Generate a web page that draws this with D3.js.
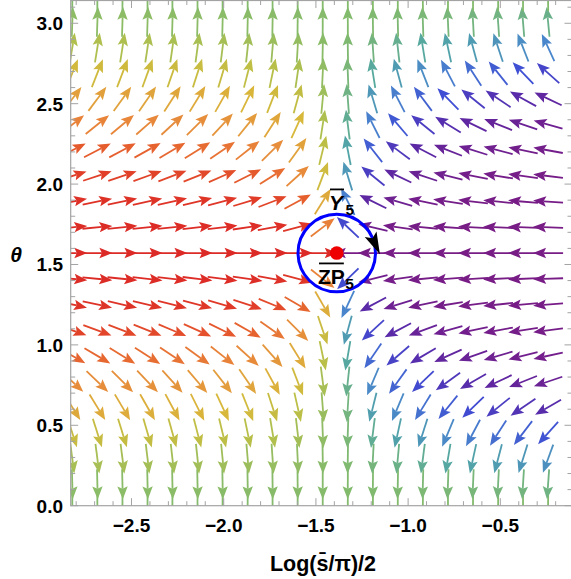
<!DOCTYPE html>
<html>
<head>
<meta charset="utf-8">
<script src="https://cdn.jsdelivr.net/npm/d3@7"></script>
<style>
  body { margin: 0; background: #fff; }
  text { font-family: "Liberation Sans", Arial, sans-serif; }
</style>
</head>
<body>
<svg id="chart" width="571" height="579"></svg>
<script>
// Sample grid of the flow field
const columnX = [-2.821, -2.685, -2.549, -2.413, -2.278, -2.142, -2.006, -1.870, -1.735, -1.599,
                 -1.463, -1.327, -1.191, -1.056, -0.920, -0.784, -0.648, -0.512, -0.377, -0.241];
const rowTheta = [-0.027, 0.133, 0.292, 0.452, 0.612, 0.772, 0.932, 1.091, 1.251, 1.411, 1.571,
                  1.731, 1.891, 2.050, 2.210, 2.370, 2.530, 2.690, 2.849, 3.009, 3.169];

// Horizontal drift of each column, its weight on each row, and the vertical push of each row
const driftX = [1.72, 1.68, 1.62, 1.55, 1.47, 1.38, 1.27, 1.10, 0.88, 0.62,
                0.21, -0.17, -0.68, -1.16, -1.68, -2.22, -2.80, -3.40, -4.05, -4.75];
const rowWeight = [0.001, 0.015, 0.074, 0.170, 0.298, 0.445, 0.598, 0.743, 0.867, 0.956, 1.000,
                   0.993, 0.935, 0.830, 0.690, 0.528, 0.363, 0.212, 0.093, 0.020, 0.001];
const liftTheta = [-1.000, -0.991, -0.958, -0.900, -0.818, -0.717, -0.597, -0.462, -0.315, -0.159, 0.000,
                   0.159, 0.315, 0.462, 0.597, 0.717, 0.818, 0.900, 0.958, 0.991, 1.000];

// Axes
const xTicks = [-2.5, -2.0, -1.5, -1.0, -0.5];
const xTickLabels = ["\u22122.5", "\u22122.0", "\u22121.5", "\u22121.0", "\u22120.5"];
const yTicks = [0.0, 0.5, 1.0, 1.5, 2.0, 2.5, 3.0];
const yTickLabels = ["0.0", "0.5", "1.0", "1.5", "2.0", "2.5", "3.0"];

// Fixed point and the loop around it
const fixedPoint = { x: -1.387, theta: 1.571 };
const loopRadius = 0.21;        // in x units
const loopArrowAt = 29;         // degrees, where the loop's arrowhead sits

const plot = { left: 70.7, right: 572, top: 0.5, bottom: 505.7 };

const svg = d3.select("#chart");

const x = d3.scaleLinear().domain([-2.8297, -0.1113]).range([plot.left, plot.right]);
const y = d3.scaleLinear().domain([0, Math.PI]).range([plot.bottom, plot.top]);

// Rainbow palette indexed by the horizontal direction of each arrow
const rainbow = d3.scaleLinear()
  .domain([0, 0.06, 0.15, 0.29, 0.41, 0.50, 0.59, 0.71, 0.80, 0.89, 0.94, 0.98, 1.0])
  .range(["#781c86", "#5a2aa8", "#3f4ed4", "#4a86cc", "#52a6a4", "#84bb6c",
          "#b5c04a", "#d8b83a", "#e2a03c", "#e8843a", "#e6602e", "#e03a28", "#dc2a26"])
  .interpolate(d3.interpolateRgb);

svg.append("defs").append("clipPath").attr("id", "plotClip")
  .append("rect")
  .attr("x", plot.left).attr("y", plot.top)
  .attr("width", plot.right - plot.left).attr("height", plot.bottom - plot.top);

// Vectors
const vectors = [];
rowTheta.forEach((th, j) => {
  columnX.forEach((cx, i) => {
    const vx = driftX[i] * rowWeight[j];
    const vy = liftTheta[j];
    const ang = Math.atan2(vy, vx);
    vectors.push({ cx, th, ang, t: (1 + Math.cos(ang)) / 2 });
  });
});

const arrowLen = 30, headLen = 13, headHalf = 5.2, notch = 10.5;
const field = svg.append("g").attr("clip-path", "url(#plotClip)");

const arrows = field.selectAll("g.vec").data(vectors).join("g")
  .attr("class", "vec")
  .attr("transform", d => `translate(${x(d.cx)},${y(d.th)}) rotate(${-d.ang * 180 / Math.PI})`);

arrows.append("line")
  .attr("x1", -arrowLen / 2).attr("y1", 0)
  .attr("x2", arrowLen / 2 - notch).attr("y2", 0)
  .attr("stroke", d => rainbow(d.t))
  .attr("stroke-width", 1.8);

arrows.append("path")
  .attr("d", `M${arrowLen / 2},0 L${arrowLen / 2 - headLen},${-headHalf} L${arrowLen / 2 - notch},0 L${arrowLen / 2 - headLen},${headHalf} Z`)
  .attr("fill", d => rainbow(d.t));

// Frame and ticks
const frameColor = "#a3a3a3";
svg.append("rect")
  .attr("x", plot.left).attr("y", plot.top)
  .attr("width", plot.right - plot.left).attr("height", plot.bottom - plot.top)
  .attr("fill", "none").attr("stroke", frameColor).attr("stroke-width", 1.2);

const xMinor = d3.range(-28, 0).map(v => v / 10);
const yMinor = d3.range(0, 32).map(v => v / 10);
const isMajor = v => Math.abs(v * 2 - Math.round(v * 2)) < 1e-6;
const ticksG = svg.append("g").attr("stroke", frameColor).attr("stroke-width", 1);

xMinor.forEach(v => {
  const len = isMajor(v) ? 7.5 : 4.5;
  ticksG.append("line").attr("x1", x(v)).attr("x2", x(v)).attr("y1", plot.bottom).attr("y2", plot.bottom - len);
  ticksG.append("line").attr("x1", x(v)).attr("x2", x(v)).attr("y1", plot.top).attr("y2", plot.top + len);
});
yMinor.forEach(v => {
  const len = isMajor(v) ? 7.5 : 4.5;
  ticksG.append("line").attr("y1", y(v)).attr("y2", y(v)).attr("x1", plot.left).attr("x2", plot.left + len);
  ticksG.append("line").attr("y1", y(v)).attr("y2", y(v)).attr("x1", plot.right).attr("x2", plot.right - len);
});

// Tick labels
svg.append("g").selectAll("text").data(xTicks).join("text")
  .attr("x", d => x(d)).attr("y", 532)
  .attr("text-anchor", "middle")
  .attr("font-size", 19).attr("font-weight", "bold")
  .text((d, i) => xTickLabels[i]);

svg.append("g").selectAll("text").data(yTicks).join("text")
  .attr("x", 63).attr("y", d => y(d) + 7)
  .attr("text-anchor", "end")
  .attr("font-size", 19).attr("font-weight", "bold")
  .text((d, i) => yTickLabels[i]);

// Axis titles
svg.append("text")
  .attr("x", 323).attr("y", 571)
  .attr("text-anchor", "middle")
  .attr("font-size", 21.5).attr("font-weight", "bold")
  .text("Log(s\u0304/\u03c0)/2");

svg.append("text")
  .attr("x", 16).attr("y", 262)
  .attr("text-anchor", "middle")
  .attr("font-size", 21).attr("font-weight", "bold").attr("font-style", "italic")
  .text("\u03b8");

// Loop around the fixed point
const cx0 = x(fixedPoint.x), cy0 = y(fixedPoint.theta);
const rPix = x(fixedPoint.x + loopRadius) - x(fixedPoint.x);
svg.append("circle")
  .attr("cx", cx0).attr("cy", cy0).attr("r", rPix)
  .attr("fill", "none").attr("stroke", "#0000ff").attr("stroke-width", 3);

// Arrowhead on the loop, heading clockwise
{
  const a = loopArrowAt * Math.PI / 180;
  const bx = cx0 + rPix * Math.cos(a), by = cy0 - rPix * Math.sin(a);
  const dir = Math.atan2(Math.cos(a), Math.sin(a)) * 180 / Math.PI + 4;
  const L = 22, H = 6.5, N = 4.5;
  svg.append("path")
    .attr("transform", `translate(${bx},${by}) rotate(${dir})`)
    .attr("d", `M${L},0 L0,${-H} L${N},0 L0,${H} Z`)
    .attr("fill", "#000");
}

svg.append("circle")
  .attr("cx", cx0).attr("cy", cy0).attr("r", 6.8)
  .attr("fill", "#ee0000");

// Labels with overbars
function barLabel(main, sub, px, py, size) {
  const g = svg.append("g");
  const t = g.append("text")
    .attr("x", px).attr("y", py)
    .attr("font-size", size).attr("font-weight", "bold")
    .text(main);
  if (main === "Y") t.attr("font-style", "italic");
  const bb = t.node().getBBox();
  g.append("text")
    .attr("x", bb.x + bb.width + 0.5).attr("y", py + size * 0.24)
    .attr("font-size", size * 0.74).attr("font-weight", "bold")
    .text(sub);
  g.append("line")
    .attr("x1", bb.x + 1).attr("x2", bb.x + bb.width - 1)
    .attr("y1", py - size * 0.98).attr("y2", py - size * 0.98)
    .attr("stroke", "#000").attr("stroke-width", 1.8);
}
barLabel("Y", "5", 329, 210, 21);
barLabel("ZP", "5", 318, 284, 21);
</script>
</body>
</html>
